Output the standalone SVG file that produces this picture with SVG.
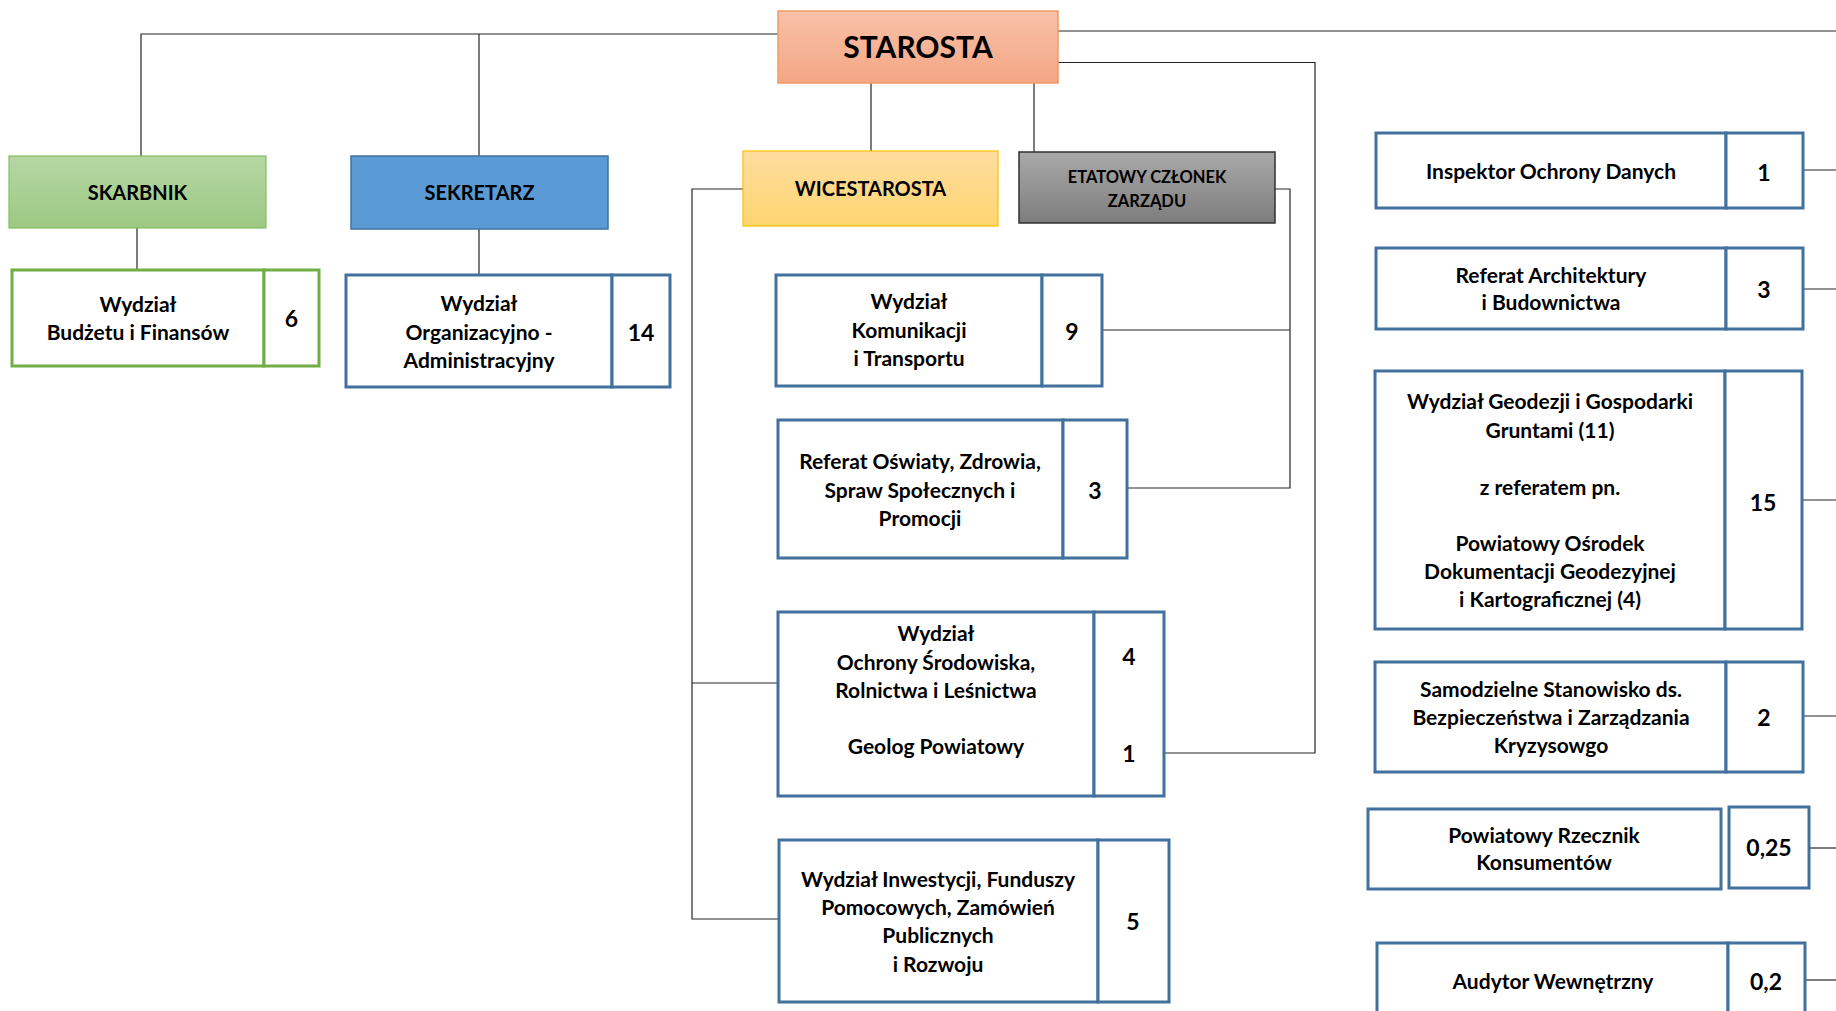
<svg xmlns="http://www.w3.org/2000/svg" width="1836" height="1011" viewBox="0 0 1836 1011">
<defs>
<linearGradient id="gOrange" x1="0" y1="0" x2="0" y2="1"><stop offset="0" stop-color="#f8c1a8"/><stop offset="1" stop-color="#f4a684"/></linearGradient>
<linearGradient id="gGreen" x1="0" y1="0" x2="0" y2="1"><stop offset="0" stop-color="#b5d7a4"/><stop offset="1" stop-color="#9cc983"/></linearGradient>
<linearGradient id="gYellow" x1="0" y1="0" x2="0" y2="1"><stop offset="0" stop-color="#fedda0"/><stop offset="1" stop-color="#ffd570"/></linearGradient>
<linearGradient id="gGray" x1="0" y1="0" x2="0" y2="1"><stop offset="0" stop-color="#a9a9a9"/><stop offset="1" stop-color="#7d7d7d"/></linearGradient>
</defs>
<style>
text{font-family:Lato,"Liberation Sans",sans-serif;font-weight:bold;fill:#000;text-anchor:middle}
.t{font-size:21px}
.n{font-size:23px}
.h{font-size:20px}
.e{font-size:16.5px}
.bx{fill:#fff;stroke:#41719c;stroke-width:3}
.gb{fill:#fff;stroke:#70ad47;stroke-width:3}
.ln{fill:none;stroke:#262626;stroke-width:1.2}
</style>
<rect width="1836" height="1011" fill="#fff"/>
<g id="connectors">
<polyline class="ln" points="778,34 141,34 141,156"/>
<line class="ln" x1="479" y1="34" x2="479" y2="156"/>
<line class="ln" x1="137" y1="228" x2="137" y2="270"/>
<line class="ln" x1="479" y1="229" x2="479" y2="275"/>
<line class="ln" x1="1058" y1="31" x2="1836" y2="31"/>
<polyline class="ln" points="1058,62.5 1315,62.5 1315,753 1164,753"/>
<line class="ln" x1="871" y1="83" x2="871" y2="151"/>
<line class="ln" x1="1034" y1="83" x2="1034" y2="152"/>
<polyline class="ln" points="743,189 692,189 692,919 779,919"/>
<line class="ln" x1="692" y1="683" x2="778" y2="683"/>
<polyline class="ln" points="1275,189 1290,189 1290,488 1127,488"/>
<line class="ln" x1="1102" y1="330" x2="1290" y2="330"/>
<line class="ln" x1="1803" y1="170" x2="1836" y2="170"/>
<line class="ln" x1="1803" y1="289" x2="1836" y2="289"/>
<line class="ln" x1="1802" y1="500" x2="1836" y2="500"/>
<line class="ln" x1="1803" y1="716" x2="1836" y2="716"/>
<line class="ln" x1="1809" y1="848" x2="1836" y2="848"/>
<line class="ln" x1="1806" y1="980" x2="1836" y2="980"/>
</g>
<g id="starosta">
<rect x="778" y="11" width="280" height="72" fill="url(#gOrange)" stroke="#f29a63" stroke-width="1.5"/>
<text x="918" y="57.5" style="font-size:30px">STAROSTA</text>
</g>
<g id="skarbnik">
<rect x="9" y="156" width="257" height="72" fill="url(#gGreen)" stroke="#86bd63" stroke-width="1.2"/>
<text class="h" x="137.5" y="200">SKARBNIK</text>
</g>
<g id="sekretarz">
<rect x="351" y="156" width="257" height="73" fill="#5b9bd5" stroke="#41719c" stroke-width="1.5"/>
<text class="h" x="479.5" y="200">SEKRETARZ</text>
</g>
<g id="wicestarosta">
<rect x="743" y="151" width="255" height="75" fill="url(#gYellow)" stroke="#ffc000" stroke-width="1.2"/>
<text class="h" x="870.5" y="196">WICESTAROSTA</text>
</g>
<g id="etatowy">
<rect x="1019" y="152" width="256" height="71" fill="url(#gGray)" stroke="#303030" stroke-width="1.5"/>
<text class="e" x="1147" y="183">ETATOWY CZŁONEK</text>
<text class="e" x="1147" y="207">ZARZĄDU</text>
</g>
<g id="budzet">
<rect class="gb" x="12" y="270" width="252" height="96"/>
<rect class="gb" x="264" y="270" width="55" height="96"/>
<text class="t" x="138" y="312">Wydział</text>
<text class="t" x="138" y="340">Budżetu i Finansów</text>
<text class="n" x="291.5" y="327">6</text>
</g>
<g id="organizacyjny">
<rect class="bx" x="346" y="275" width="266" height="112"/>
<rect class="bx" x="612" y="275" width="58" height="112"/>
<text class="t" x="479" y="311">Wydział</text>
<text class="t" x="479" y="340">Organizacyjno -</text>
<text class="t" x="479" y="368">Administracyjny</text>
<text class="n" x="641" y="341">14</text>
</g>
<g id="komunikacja">
<rect class="bx" x="776" y="275" width="266" height="111"/>
<rect class="bx" x="1042" y="275" width="60" height="111"/>
<text class="t" x="909" y="309">Wydział</text>
<text class="t" x="909" y="338">Komunikacji</text>
<text class="t" x="909" y="366">i Transportu</text>
<text class="n" x="1072" y="340">9</text>
</g>
<g id="oswiata">
<rect class="bx" x="778" y="420" width="285" height="138"/>
<rect class="bx" x="1063" y="420" width="64" height="138"/>
<text class="t" x="920" y="469">Referat Oświaty, Zdrowia,</text>
<text class="t" x="920" y="498">Spraw Społecznych i</text>
<text class="t" x="920" y="526">Promocji</text>
<text class="n" x="1095" y="499">3</text>
</g>
<g id="srodowisko">
<rect class="bx" x="778" y="612" width="316" height="184"/>
<rect class="bx" x="1094" y="612" width="70" height="184"/>
<text class="t" x="936" y="641">Wydział</text>
<text class="t" x="936" y="670">Ochrony Środowiska,</text>
<text class="t" x="936" y="698">Rolnictwa i Leśnictwa</text>
<text class="t" x="936" y="754">Geolog Powiatowy</text>
<text class="n" x="1129" y="665">4</text>
<text class="n" x="1129" y="762">1</text>
</g>
<g id="inwestycje">
<rect class="bx" x="779" y="840" width="319" height="162"/>
<rect class="bx" x="1098" y="840" width="71" height="162"/>
<text class="t" x="938" y="887">Wydział Inwestycji, Funduszy</text>
<text class="t" x="938" y="915">Pomocowych, Zamówień</text>
<text class="t" x="938" y="943">Publicznych</text>
<text class="t" x="938" y="972">i Rozwoju</text>
<text class="n" x="1133" y="930">5</text>
</g>
<g id="iod">
<rect class="bx" x="1376" y="133" width="350" height="75"/>
<rect class="bx" x="1726" y="133" width="77" height="75"/>
<text class="t" x="1551" y="179">Inspektor Ochrony Danych</text>
<text class="n" x="1764" y="181">1</text>
</g>
<g id="architektura">
<rect class="bx" x="1376" y="248" width="350" height="81"/>
<rect class="bx" x="1726" y="248" width="77" height="81"/>
<text class="t" x="1551" y="283">Referat Architektury</text>
<text class="t" x="1551" y="310">i Budownictwa</text>
<text class="n" x="1764" y="298">3</text>
</g>
<g id="geodezja">
<rect class="bx" x="1375" y="371" width="350" height="258"/>
<rect class="bx" x="1725" y="371" width="77" height="258"/>
<text class="t" x="1550" y="409">Wydział Geodezji i Gospodarki</text>
<text class="t" x="1550" y="438">Gruntami (11)</text>
<text class="t" x="1550" y="495">z referatem pn.</text>
<text class="t" x="1550" y="551">Powiatowy Ośrodek</text>
<text class="t" x="1550" y="579">Dokumentacji Geodezyjnej</text>
<text class="t" x="1550" y="607">i Kartograficznej (4)</text>
<text class="n" x="1763" y="511">15</text>
</g>
<g id="bezpieczenstwo">
<rect class="bx" x="1375" y="662" width="351" height="110"/>
<rect class="bx" x="1726" y="662" width="77" height="110"/>
<text class="t" x="1551" y="697">Samodzielne Stanowisko ds.</text>
<text class="t" x="1551" y="725">Bezpieczeństwa i Zarządzania</text>
<text class="t" x="1551" y="753">Kryzysowgo</text>
<text class="n" x="1764" y="726">2</text>
</g>
<g id="rzecznik">
<rect class="bx" x="1368" y="809" width="353" height="80"/>
<rect class="bx" x="1729" y="807" width="80" height="81"/>
<text class="t" x="1544" y="843">Powiatowy Rzecznik</text>
<text class="t" x="1544" y="870">Konsumentów</text>
<text class="n" x="1769" y="856">0,25</text>
</g>
<g id="audytor">
<rect class="bx" x="1377" y="943" width="351" height="80"/>
<rect class="bx" x="1728" y="943" width="77" height="80"/>
<text class="t" x="1553" y="989">Audytor Wewnętrzny</text>
<text class="n" x="1766" y="990">0,2</text>
</g>
</svg>
